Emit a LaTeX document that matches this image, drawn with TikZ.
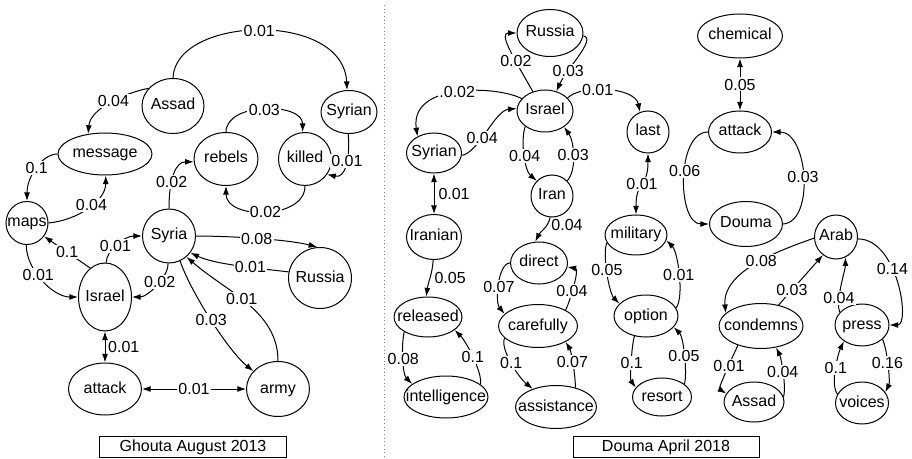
\documentclass[tikz,border=0pt]{standalone}
\usepackage{fontspec}
\setmainfont{Liberation Sans}
\usetikzlibrary{shapes.geometric,arrows.meta}
% zero-width text so the ellipse keeps the given size
\newcommand\nw[1]{\makebox[0pt]{#1}}
\begin{document}
\begin{tikzpicture}[x=0.75pt,y=-0.75pt,
  font=\fontsize{12}{14}\selectfont,
  term/.style 2 args={ellipse, draw, line width=0.75pt, inner sep=0pt,
    text height=8.6pt, text depth=2.6pt,
    minimum width=#1*0.75pt, minimum height=#2*0.75pt},
  link/.style={line width=0.75pt, -{Latex[length=6.5pt,width=4.5pt]}},
  link2/.style={line width=0.75pt, {Latex[length=6.5pt,width=4.5pt]}-{Latex[length=6.5pt,width=4.5pt]}},
  lbl/.style={fill=white, inner sep=1pt},
  side/.style={inner sep=1pt},
  caption/.style={draw, line width=0.75pt, inner sep=0pt, minimum height=21*0.75pt}]
\useasboundingbox (0,0) rectangle (912,459);

% separator between the two panels
\draw[gray, dotted, line width=0.75pt] (384,5) -- (384,457);

% ---------------- Ghouta August 2013 ----------------
\node[term={62}{55}] (assadL)   at (173,106) {\nw{Assad}};
\node[term={56}{43}] (syrianL)  at (349,112) {\nw{Syrian}};
\node[term={94}{42}] (message)  at (105,154) {\nw{message}};
\node[term={64}{53}] (rebels)   at (226,159) {\nw{rebels}};
\node[term={53}{53}] (killed)   at (305,159) {\nw{killed}};
\node[term={42}{43}] (maps)     at (27,223)  {\nw{maps}};
\node[term={53}{54}] (syria)    at (169,236) {\nw{Syria}};
\node[term={53}{68}] (israelL)  at (105,297) {\nw{Israel}};
\node[term={63}{61}] (russiaL)  at (320,278) {\nw{Russia}};
\node[term={73}{52}] (attackL)  at (105,389) {\nw{attack}};
\node[term={63}{55}] (army)     at (278,389) {\nw{army}};
\node[caption, minimum width=187*0.75pt] (capL) at (193,447) {Ghouta August 2013};

\draw[link] (assadL.90) .. controls +(2,-62) and +(-4,-80) .. (syrianL.95)
  node[lbl,pos=0.5] {0.01};
\draw[link] (assadL.144) .. controls +(-25,5) and +(2,-25) .. (message.130)
  node[lbl,pos=0.45] {0.04};
\draw[link] (message.180) .. controls +(-15,0) and +(0,-25) .. (maps.90)
  node[lbl,pos=0.5] {0.1};
\draw[link] (maps.0) .. controls +(30,-3) and +(0,25) .. (message.272)
  node[lbl,pos=0.55] {0.04};
\draw[link] (syria.90) .. controls +(0,-30) and +(-18,0) .. (rebels.185)
  node[lbl,pos=0.35] {0.02};
\draw[link] (rebels.90) .. controls +(0,-30) and +(0,-30) .. (killed.95)
  node[lbl,pos=0.5] {0.03};
\draw[link] (killed.270) .. controls +(0,34) and +(0,34) .. (rebels.270)
  node[lbl,pos=0.5] {0.02};
\draw[link] (syrianL.268) .. controls +(2,26) and +(18,4) .. (killed.-35)
  node[lbl,pos=0.4] {0.01};
\draw[link] (israelL.117) -- (maps.-38) node[lbl,midway] {0.1};
\draw[link] (israelL.88) .. controls +(0,-12) and +(-18,0) .. (syria.180)
  node[lbl,pos=0.45] {0.01};
\draw[link] (syria.268) .. controls +(0,15) and +(15,0) .. (israelL.0)
  node[lbl,pos=0.4] {0.02};
\draw[link] (maps.268) .. controls +(0,25) and +(-25,0) .. (israelL.180)
  node[lbl,pos=0.42] {0.01};
\draw[link] (syria.0) .. controls +(30,0) and +(-30,-8) .. (russiaL.95)
  node[lbl,pos=0.5] {0.08};
\draw[link] (russiaL.169) .. controls +(-25,-3) and +(25,12) .. (syria.-38)
  node[lbl,pos=0.4] {0.01};
\draw[link] (syria.-66) .. controls +(10,30) and +(-25,-20) .. (army.144)
  node[lbl,pos=0.5] {0.03};
\draw[link] (army.90) .. controls +(0,-50) and +(40,35) .. (syria.-50)
  node[lbl,pos=0.55] {0.01};
\draw[link2] (israelL.270) -- (attackL.90) node[side,midway,right=1pt] {0.01};
\draw[link2] (attackL.0) -- (army.180) node[lbl,midway] {0.01};

% ---------------- Douma April 2018 ----------------
\node[term={66}{47}] (russiaR)   at (550,33)  {\nw{Russia}};
\node[term={56}{42}] (israelR)   at (545,111) {\nw{Israel}};
\node[term={42}{42}] (last)      at (648,132) {\nw{last}};
\node[term={55}{40}] (syrianR)   at (434,153) {\nw{Syrian}};
\node[term={42}{42}] (iran)      at (552,196) {\nw{Iran}};
\node[term={55}{45}] (iranian)   at (434,237) {\nw{Iranian}};
\node[term={62}{40}] (military)  at (636,235) {\nw{military}};
\node[term={57}{42}] (direct)    at (539,263) {\nw{direct}};
\node[term={68}{40}] (released)  at (428,317) {\nw{released}};
\node[term={79}{43}] (carefully) at (538,326) {\nw{carefully}};
\node[term={64}{42}] (option)    at (646,316) {\nw{option}};
\node[term={84}{42}] (intel)     at (446,397) {\nw{intelligence}};
\node[term={81}{43}] (assist)    at (556,407) {\nw{assistance}};
\node[term={59}{38}] (resort)    at (662,397) {\nw{resort}};
\node[term={85}{44}] (chemical)  at (740,36)  {\nw{chemical}};
\node[term={63}{42}] (attackR)   at (740,132) {\nw{attack}};
\node[term={73}{45}] (douma)     at (746,224) {\nw{Douma}};
\node[term={43}{44}] (arab)      at (836,237) {\nw{Arab}};
\node[term={84}{45}] (condemns)  at (761,326) {\nw{condemns}};
\node[term={54}{42}] (press)     at (862,325) {\nw{press}};
\node[term={60}{40}] (assadR)    at (754,402) {\nw{Assad}};
\node[term={53}{42}] (voices)    at (862,403) {\nw{voices}};
\node[caption, minimum width=186*0.75pt] (capR) at (666,447) {Douma April 2018};

\draw[link] (israelR.122) .. controls +(-20,-35) and +(-18,0) .. (russiaR.180)
  node[lbl,pos=0.33] {0.02};
\draw[link] (russiaR.-5) .. controls +(14,2) and +(10,-22) .. (israelR.60)
  node[lbl,pos=0.72] {0.03};
\draw[link] (israelR.152) .. controls +(-25,-13) and +(-8,-54) .. (syrianR.135)
  node[lbl,pos=0.5] {.0.02};
\draw[link] (syrianR.-5) .. controls +(17,-3) and +(-22,2) .. (israelR.175)
  node[lbl,pos=0.4] {0.04};
\draw[link] (israelR.218) .. controls +(-5,15) and +(-12,-10) .. (iran.135)
  node[lbl,pos=0.5] {0.04};
\draw[link] (iran.45) .. controls +(10,-11) and +(10,14) .. (israelR.-40)
  node[lbl,pos=0.5] {0.03};
\draw[link] (israelR.30) .. controls +(14,-14) and +(-5,-25) .. (last.112)
  node[lbl,pos=0.4] {0.01};
\draw[link2] (syrianR.270) -- (iranian.90) node[side,midway,right=2pt] {0.01};
\draw[link2] (last.270) .. controls +(0,35) and +(0,-35) .. (military.90)
  node[lbl,pos=0.5] {0.01};
\draw[link] (iranian.268) .. controls +(-1,15) and +(2,-15) .. (released.95)
  node[side,pos=0.5,right=2pt] {0.05};
\draw[link] (released.212) .. controls +(-3,12) and +(-10,-10) .. (intel.159)
  node[lbl,pos=0.5] {0.08};
\draw[link] (intel.20) .. controls +(2,-12) and +(12,12) .. (released.-26)
  node[lbl,pos=0.5] {0.1};
\draw[link] (iran.265) .. controls +(-2,10) and +(5,-10) .. (direct.100)
  node[side,pos=0.3,right=2pt] {0.04};
\draw[link] (direct.180) .. controls +(-12,0) and +(-10,-12) .. (carefully.160)
  node[lbl,pos=0.55] {0.07};
\draw[link] (carefully.30) .. controls +(5,-10) and +(12,2) .. (direct.-8)
  node[lbl,pos=0.4] {0.04};
\draw[link] (carefully.200) .. controls +(-5,10) and +(-15,-12) .. (assist.142)
  node[lbl,pos=0.5] {0.1};
\draw[link] (assist.45) .. controls +(0,-15) and +(5,8) .. (carefully.-30)
  node[lbl,pos=0.5] {0.07};
\draw[link] (military.195) .. controls +(-5,12) and +(-10,-10) .. (option.155)
  node[lbl,pos=0.45] {0.05};
\draw[link] (option.15) .. controls +(8,-10) and +(12,12) .. (military.-10)
  node[lbl,pos=0.5] {0.01};
\draw[link] (option.240) .. controls +(-3,10) and +(-6,-8) .. (resort.160)
  node[lbl,pos=0.5] {0.1};
\draw[link] (resort.30) .. controls +(3,-10) and +(10,10) .. (option.-22)
  node[lbl,pos=0.5] {0.05};
\draw[link2] (chemical.270) -- (attackR.90) node[lbl,midway] {0.05};
\draw[link] (attackR.180) .. controls +(-32,0) and +(-32,0) .. (douma.180)
  node[lbl,pos=0.45] {0.06};
\draw[link] (douma.0) .. controls +(32,-2) and +(36,0) .. (attackR.0)
  node[lbl,pos=0.5] {0.03};
\draw[link] (arab.183) .. controls +(-34,12) and +(-4,-42) .. (condemns.160)
  node[lbl,pos=0.45] {0.08};
\draw[link] (condemns.50) -- (arab.234) node[lbl,pos=0.3] {0.03};
\draw[link] (arab.-5) .. controls +(40,0) and +(21,0) .. (press.0)
  node[lbl,pos=0.4] {0.14};
\draw[link] (press.150) .. controls +(-5,-10) and +(0,12) .. (arab.295)
  node[lbl,pos=0.3] {0.04};
\draw[link] (condemns.220) .. controls +(-5,10) and +(-8,-5) .. (assadR.163)
  node[lbl,pos=0.42] {0.01};
\draw[link] (assadR.10) .. controls +(3,-10) and +(5,10) .. (condemns.-55)
  node[lbl,pos=0.5] {0.04};
\draw[link] (voices.160) .. controls +(-8,-10) and +(-5,10) .. (press.222)
  node[lbl,pos=0.5] {0.1};
\draw[link] (press.-35) .. controls +(5,10) and +(5,-10) .. (voices.25)
  node[lbl,pos=0.45] {0.16};
\end{tikzpicture}
\end{document}
